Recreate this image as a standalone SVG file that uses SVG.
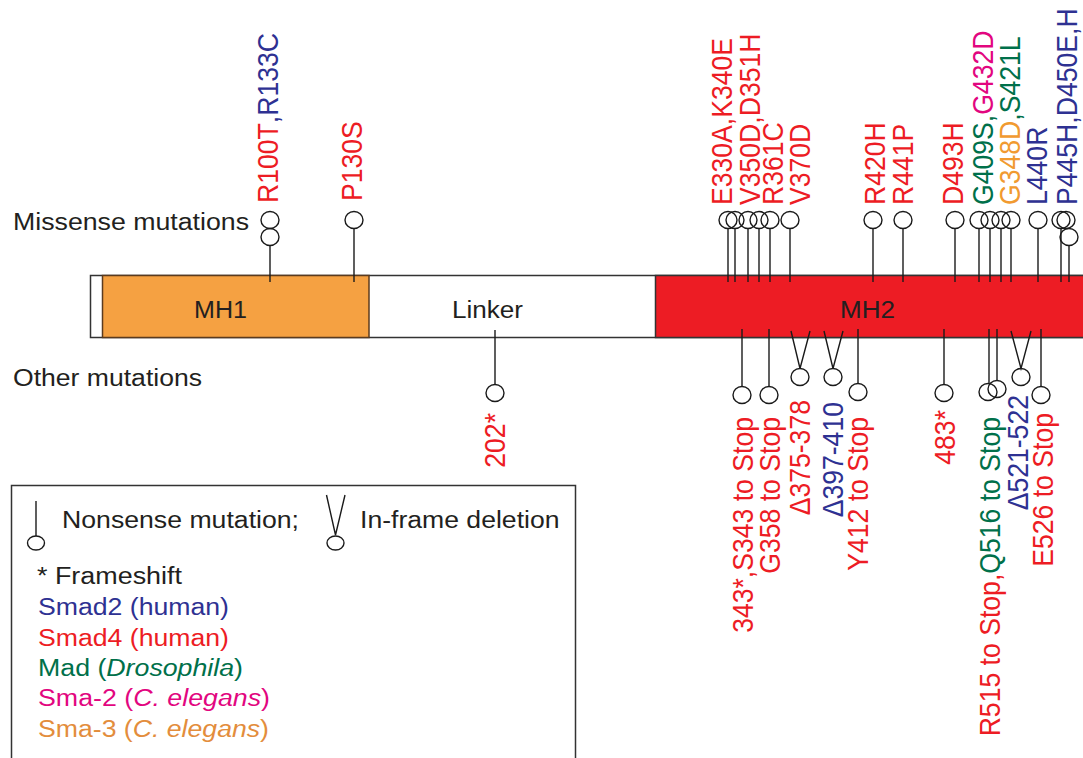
<svg xmlns="http://www.w3.org/2000/svg" width="1083" height="758" viewBox="0 0 1083 758">
<style>
.v{font-family:"Liberation Sans",Arial,sans-serif;font-size:26.6px}
.h{font-family:"Liberation Sans",Arial,sans-serif;font-size:23.5px}
.k{fill:#231F20}
.r{fill:#ED1C24}
.n{fill:#2E3192}
.g{fill:#00704A}
.m{fill:#E2067F}
.o{fill:#F19A30}
.lo{fill:#E38D3C}
.stem{stroke:#1a1a1a;stroke-width:1.4;fill:none}
.pop{stroke:#1a1a1a;stroke-width:1.4;fill:none}
.it{font-style:italic}
</style>
<rect width="1083" height="758" fill="#ffffff"/>

<!-- domain bar -->
<g id="bar">
<rect x="90.5" y="275.5" width="1000" height="62" fill="#ffffff" stroke="#333333" stroke-width="1.5"/>
</g>
<g id="MH1">
<rect x="102.5" y="275.5" width="266.5" height="62" fill="#F5A142" stroke="#5B3B1E" stroke-width="1.5"/>
<text class="h k" x="194" y="318" textLength="53" lengthAdjust="spacingAndGlyphs">MH1</text>
</g>
<g id="Linker">
<text class="h k" x="452" y="318" textLength="71" lengthAdjust="spacingAndGlyphs">Linker</text>
</g>
<g id="MH2">
<rect x="655.5" y="275.5" width="440" height="62" fill="#ED1C24" stroke="#333333" stroke-width="1.5"/>
<text class="h k" x="840" y="318" textLength="55" lengthAdjust="spacingAndGlyphs">MH2</text>
</g>

<g id="row-labels">
<text class="h k" x="13" y="230" textLength="236" lengthAdjust="spacingAndGlyphs">Missense mutations</text>
<text class="h k" x="13" y="385.5" textLength="189" lengthAdjust="spacingAndGlyphs">Other mutations</text>
</g>

<!-- connectors: stems -->
<g id="connectors">
<line class="stem" x1="270" y1="245.5" x2="270" y2="282"/>
<line class="stem" x1="354" y1="228.5" x2="354" y2="282"/>
<line class="stem" x1="728" y1="228.5" x2="728" y2="282"/>
<line class="stem" x1="735" y1="228.5" x2="735" y2="282"/>
<line class="stem" x1="748" y1="228.5" x2="748" y2="282"/>
<line class="stem" x1="759" y1="228.5" x2="759" y2="282"/>
<line class="stem" x1="770" y1="228.5" x2="770" y2="282"/>
<line class="stem" x1="790" y1="228.5" x2="790" y2="282"/>
<line class="stem" x1="873" y1="228.5" x2="873" y2="282"/>
<line class="stem" x1="903" y1="228.5" x2="903" y2="282"/>
<line class="stem" x1="955" y1="228.5" x2="955" y2="282"/>
<line class="stem" x1="979" y1="228.5" x2="979" y2="282"/>
<line class="stem" x1="990" y1="228.5" x2="990" y2="282"/>
<line class="stem" x1="1001" y1="228.5" x2="1001" y2="282"/>
<line class="stem" x1="1011" y1="228.5" x2="1011" y2="282"/>
<line class="stem" x1="1038" y1="228.5" x2="1038" y2="282"/>
<line class="stem" x1="1061" y1="228.5" x2="1061" y2="282"/>
<line class="stem" x1="1069" y1="245.5" x2="1069" y2="282"/>
<!-- bottom -->
<line class="stem" x1="495" y1="330" x2="495" y2="384.5"/>
<line class="stem" x1="742" y1="329" x2="742" y2="386.5"/>
<line class="stem" x1="769" y1="329" x2="769" y2="386.5"/>
<polyline class="stem" points="791,331 800,368.5 810,331"/>
<polyline class="stem" points="824,331 833,368.5 843,331"/>
<line class="stem" x1="858" y1="329" x2="858" y2="383.5"/>
<line class="stem" x1="944" y1="329" x2="944" y2="384.5"/>
<line class="stem" x1="989" y1="329" x2="989" y2="383.5"/>
<line class="stem" x1="997" y1="329" x2="997" y2="380.5"/>
<polyline class="stem" points="1011,331 1021,368.5 1031,331"/>
<line class="stem" x1="1041" y1="329" x2="1041" y2="386.5"/>
</g>

<!-- top nodes -->
<g id="m-R100T-R133C">
<ellipse class="pop" cx="270" cy="220" rx="9" ry="8.5"/>
<ellipse class="pop" cx="270" cy="237" rx="9" ry="8.5"/>
<text class="v" transform="translate(278,203) scale(1.1,1) rotate(-90)"><tspan class="r">R100T</tspan><tspan class="n">,R133C</tspan></text>
</g>
<g id="m-P130S">
<ellipse class="pop" cx="354" cy="220" rx="9" ry="8.5"/>
<text class="v r" transform="translate(361.5,201) scale(1.1,1) rotate(-90)">P130S</text>
</g>
<g id="m-330-370">
<ellipse class="pop" cx="728" cy="220" rx="9" ry="8.5"/>
<ellipse class="pop" cx="735" cy="220" rx="9" ry="8.5"/>
<ellipse class="pop" cx="748" cy="220" rx="9" ry="8.5"/>
<ellipse class="pop" cx="759" cy="220" rx="9" ry="8.5"/>
<ellipse class="pop" cx="770" cy="220" rx="9" ry="8.5"/>
<ellipse class="pop" cx="790" cy="220" rx="9" ry="8.5"/>
<text class="v r" transform="translate(732,205) scale(1.1,1) rotate(-90)">E330A,K340E</text>
<text class="v r" transform="translate(760,205) scale(1.1,1) rotate(-90)">V350D,D351H</text>
<text class="v r" transform="translate(783,205) scale(1.1,1) rotate(-90)">R361C</text>
<text class="v r" transform="translate(810,205) scale(1.1,1) rotate(-90)">V370D</text>
</g>
<g id="m-R420H">
<ellipse class="pop" cx="873" cy="220" rx="9" ry="8.5"/>
<text class="v r" transform="translate(885,205) scale(1.1,1) rotate(-90)">R420H</text>
</g>
<g id="m-R441P">
<ellipse class="pop" cx="903" cy="220" rx="9" ry="8.5"/>
<text class="v r" transform="translate(913,205) scale(1.1,1) rotate(-90)">R441P</text>
</g>
<g id="m-D493H">
<ellipse class="pop" cx="955" cy="220" rx="9" ry="8.5"/>
<text class="v r" transform="translate(963,205) scale(1.1,1) rotate(-90)">D493H</text>
</g>
<g id="m-409-432">
<ellipse class="pop" cx="979" cy="220" rx="9" ry="8.5"/>
<ellipse class="pop" cx="990" cy="220" rx="9" ry="8.5"/>
<ellipse class="pop" cx="1001" cy="220" rx="9" ry="8.5"/>
<ellipse class="pop" cx="1011" cy="220" rx="9" ry="8.5"/>
<text class="v" transform="translate(993,205) scale(1.1,1) rotate(-90)"><tspan class="g">G409S,</tspan><tspan class="m">G432D</tspan></text>
<text class="v" transform="translate(1020,205) scale(1.1,1) rotate(-90)"><tspan class="o">G348D</tspan><tspan class="g">,S421L</tspan></text>
</g>
<g id="m-L440R">
<ellipse class="pop" cx="1038" cy="220" rx="9" ry="8.5"/>
<text class="v n" transform="translate(1047,205) scale(1.1,1) rotate(-90)">L440R</text>
</g>
<g id="m-P445H">
<ellipse class="pop" cx="1061" cy="220" rx="9" ry="8.5"/>
<ellipse class="pop" cx="1066" cy="220" rx="9" ry="8.5"/>
<ellipse class="pop" cx="1069" cy="237" rx="9" ry="8.5"/>
<text class="v n" transform="translate(1077,205) scale(1.1,1) rotate(-90)">P445H,D450E,H</text>
</g>

<!-- bottom nodes -->
<g id="o-202">
<ellipse class="pop" cx="495" cy="393" rx="9" ry="8.5"/>
<text class="v r" text-anchor="end" transform="translate(505,413) scale(1.1,1) rotate(-90)">202*</text>
</g>
<g id="o-343">
<ellipse class="pop" cx="742" cy="395" rx="9" ry="8.5"/>
<text class="v r" text-anchor="end" transform="translate(753,417) scale(1.1,1) rotate(-90)">343*,S343 to Stop</text>
</g>
<g id="o-G358">
<ellipse class="pop" cx="769" cy="395" rx="9" ry="8.5"/>
<text class="v r" text-anchor="end" transform="translate(780,417) scale(1.1,1) rotate(-90)">G358 to Stop</text>
</g>
<g id="o-d375">
<ellipse class="pop" cx="800" cy="377" rx="9" ry="8.5"/>
<text class="v r" text-anchor="end" transform="translate(810,400) scale(1.1,1) rotate(-90)">Δ375-378</text>
</g>
<g id="o-d397">
<ellipse class="pop" cx="833" cy="377" rx="9" ry="8.5"/>
<text class="v n" text-anchor="end" transform="translate(843,402) scale(1.1,1) rotate(-90)">Δ397-410</text>
</g>
<g id="o-Y412">
<ellipse class="pop" cx="858" cy="392" rx="9" ry="8.5"/>
<text class="v r" text-anchor="end" transform="translate(868,417) scale(1.1,1) rotate(-90)">Y412 to Stop</text>
</g>
<g id="o-483">
<ellipse class="pop" cx="944" cy="393" rx="9" ry="8.5"/>
<text class="v r" text-anchor="end" transform="translate(955,410) scale(1.1,1) rotate(-90)">483*</text>
</g>
<g id="o-R515-Q516">
<ellipse class="pop" cx="988" cy="392" rx="9" ry="8.5"/>
<ellipse class="pop" cx="997" cy="389" rx="9" ry="8.5"/>
<text class="v" text-anchor="end" transform="translate(1000,417) scale(1.1,1) rotate(-90)"><tspan class="r">R515 to Stop,</tspan><tspan class="g">Q516 to Stop</tspan></text>
</g>
<g id="o-d521">
<ellipse class="pop" cx="1021" cy="377" rx="9" ry="8.5"/>
<text class="v n" text-anchor="end" transform="translate(1028,395) scale(1.1,1) rotate(-90)">Δ521-522</text>
</g>
<g id="o-E526">
<ellipse class="pop" cx="1041" cy="395" rx="9" ry="8.5"/>
<text class="v r" text-anchor="end" transform="translate(1053,413) scale(1.1,1) rotate(-90)">E526 to Stop</text>
</g>

<!-- legend -->
<g id="legend">
<rect x="11.5" y="485.5" width="564" height="300" fill="none" stroke="#333333" stroke-width="1.5"/>
<line class="stem" x1="36" y1="501" x2="36" y2="536"/>
<ellipse class="pop" cx="36" cy="543" rx="8.5" ry="7"/>
<text class="h k" x="62" y="528" textLength="237" lengthAdjust="spacingAndGlyphs">Nonsense mutation;</text>
<polyline class="stem" points="326.5,495 335.5,535 345,495"/>
<ellipse class="pop" cx="335.5" cy="543" rx="8.5" ry="7"/>
<text class="h k" x="360" y="528" textLength="199.5" lengthAdjust="spacingAndGlyphs">In-frame deletion</text>
<text class="h k" x="37" y="584" textLength="145" lengthAdjust="spacingAndGlyphs">* Frameshift</text>
<text class="h n" x="38" y="615" textLength="191" lengthAdjust="spacingAndGlyphs">Smad2 (human)</text>
<text class="h r" x="38" y="645.5" textLength="191" lengthAdjust="spacingAndGlyphs">Smad4 (human)</text>
<text class="h g" x="38" y="675.5" textLength="205" lengthAdjust="spacingAndGlyphs">Mad (<tspan class="it">Drosophila</tspan>)</text>
<text class="h m" x="38" y="705.5" textLength="232" lengthAdjust="spacingAndGlyphs">Sma-2 (<tspan class="it">C. elegans</tspan>)</text>
<text class="h lo" x="38" y="736.5" textLength="231" lengthAdjust="spacingAndGlyphs">Sma-3 (<tspan class="it">C. elegans</tspan>)</text>
</g>
</svg>
